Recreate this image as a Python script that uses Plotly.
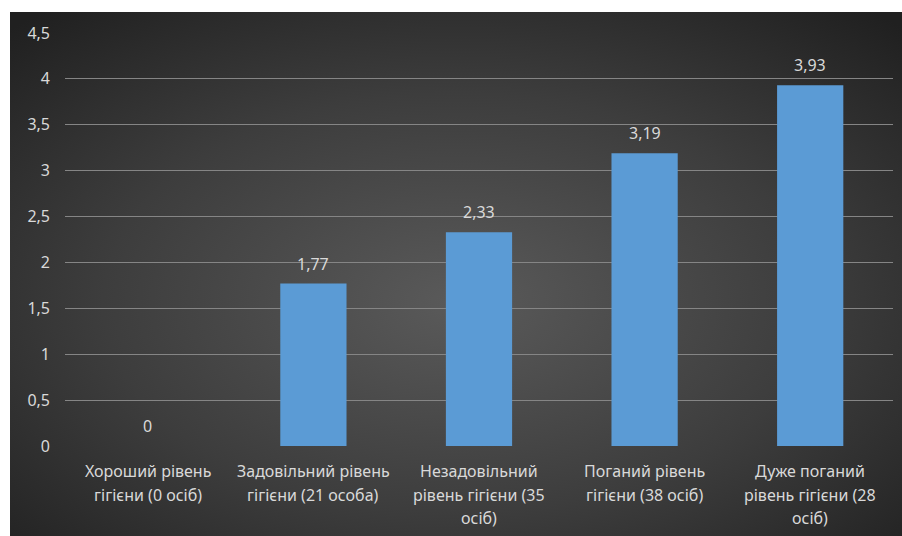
import base64
import plotly.graph_objects as go

# ---- data ----
label_lines = [
    ["Хороший рівень", "гігієни (0 осіб)"],
    ["Задовільний рівень", "гігієни (21 особа)"],
    ["Незадовільний", "рівень гігієни (35", "осіб)"],
    ["Поганий рівень", "гігієни (38 осіб)"],
    ["Дуже поганий", "рівень гігієни (28", "осіб)"],
]
categories = [" ".join(l) for l in label_lines]
values = [0, 1.77, 2.33, 3.19, 3.93]
y_ticks = [0, 0.5, 1, 1.5, 2, 2.5, 3, 3.5, 4, 4.5]

FONT = "Noto Sans"
TXT = "#d9d9d9"
W, H = 902, 536
ML, MR, MT, MB = 65, 9, 33, 90
PW, PH = W - ML - MR, H - MT - MB

# radial-gradient background as inline SVG
svg = (
    '<svg xmlns="http://www.w3.org/2000/svg" width="892" height="524" viewBox="0 0 892 524" preserveAspectRatio="none">'
    '<defs><radialGradient id="g" cx="0.5" cy="0.55" r="0.72">'
    '<stop offset="0" stop-color="#5a5a5a"/>'
    '<stop offset="0.55" stop-color="#3d3d3d"/>'
    '<stop offset="1" stop-color="#202020"/>'
    '</radialGradient></defs>'
    '<rect x="0" y="0" width="892" height="524" fill="url(#g)"/></svg>'
)
src = "data:image/svg+xml;base64," + base64.b64encode(svg.encode()).decode()

x0 = (10 - ML) / PW
x1 = (W + 4 - ML) / PW
ytop = (MT + PH - 12) / PH
ybot = (MT + PH - H - 4) / PH

fig = go.Figure()
fig.add_trace(go.Bar(
    x=categories, y=values,
    marker=dict(color="#5b9bd5", line=dict(width=0)),
    width=0.4, hoverinfo="skip",
))

annotations = []
for c, v in zip(categories, values):
    annotations.append(dict(
        x=c, y=v, xref="x", yref="y", text=f"{v:g}".replace(".", ","),
        showarrow=False, yanchor="middle", yshift=20,
        font=dict(family=FONT, size=16, color=TXT),
    ))
for c, lines in zip(categories, label_lines):
    for i, ln in enumerate(lines):
        annotations.append(dict(
            x=c, y=0, xref="x", yref="y", text=ln, showarrow=False,
            yanchor="middle", yshift=-(25 + 23.5 * i),
            font=dict(family=FONT, size=16, color=TXT),
        ))

fig.update_layout(
    template="none",
    width=W, height=H,
    margin=dict(l=ML, r=MR, t=MT, b=MB, pad=0),
    paper_bgcolor="#262626",
    plot_bgcolor="rgba(0,0,0,0)",
    separators=", ",
    showlegend=False,
    bargap=0.6,
    font=dict(family=FONT, size=16, color=TXT),
    images=[dict(
        source=src, xref="paper", yref="paper",
        x=x0, y=ytop, sizex=x1 - x0, sizey=ytop - ybot,
        xanchor="left", yanchor="top", sizing="stretch", layer="below",
    )],
    shapes=[
        dict(type="rect", xref="paper", yref="paper", layer="below",
             x0=-0.2, x1=1.2, y0=ytop, y1=1.3, fillcolor="white", line=dict(width=0)),
        dict(type="rect", xref="paper", yref="paper", layer="below",
             x0=-0.2, x1=x0, y0=-0.4, y1=1.3, fillcolor="white", line=dict(width=0)),
    ],
    annotations=annotations,
    xaxis=dict(
        type="category", showticklabels=False, showgrid=False,
        zeroline=False, showline=False, ticks="", automargin=False,
    ),
    yaxis=dict(
        range=[0, 4.5], tickvals=y_ticks, tickformat=".1~f",
        showgrid=True, gridcolor="#858585", gridwidth=1,
        zeroline=False, showline=False, ticks="",
        ticklabelstandoff=14, automargin=False,
        tickfont=dict(family=FONT, size=16, color=TXT),
    ),
)

fig.write_html("out.html")
